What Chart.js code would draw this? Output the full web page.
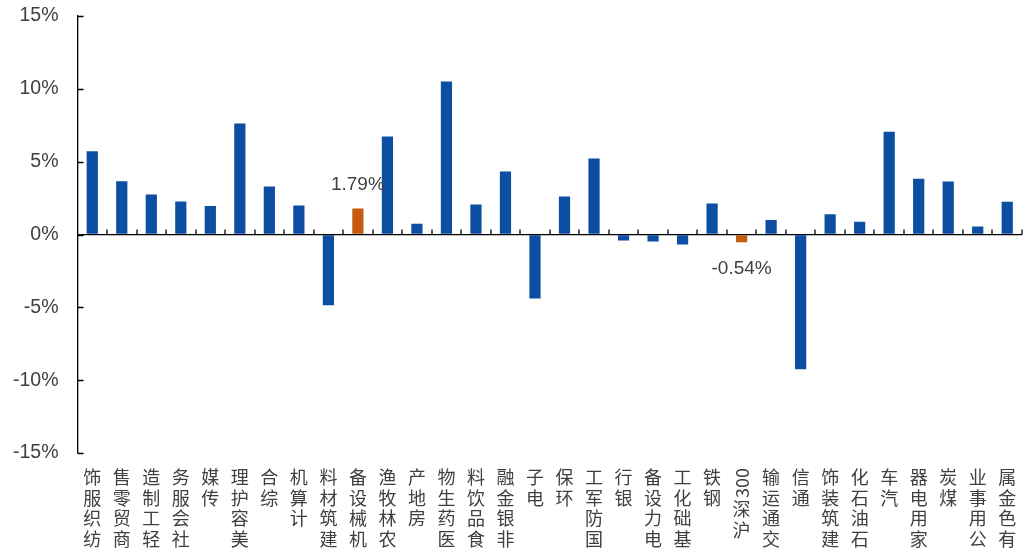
<!DOCTYPE html>
<html>
<head>
<meta charset="utf-8">
<script src="https://cdn.jsdelivr.net/npm/chart.js@4"></script>
<style>
  html, body { margin: 0; padding: 0; background: #fff; }
  #wrap { width: 1027px; height: 556px; }
</style>
</head>
<body>
<div id="wrap"><canvas id="industryChart" width="1027" height="556"></canvas></div>
<script>
// industries, weekly change (%)
const industries = ['纺织服饰', '商贸零售', '轻工制造', '社会服务', '传媒', '美容护理', '综合', '计算机',
    '建筑材料', '机械设备', '农林牧渔', '房地产', '医药生物', '食品饮料', '非银金融', '电子',
    '环保', '国防军工', '银行', '电力设备', '基础化工', '钢铁', '沪深300', '交通运输',
    '通信', '建筑装饰', '石油石化', '汽车', '家用电器', '煤炭', '公用事业', '有色金属'];
const changes = [5.72, 3.66, 2.75, 2.27, 1.96, 7.62, 3.30, 1.99,
    -4.86, 1.79, 6.73, 0.73, 10.51, 2.06, 4.33, -4.40,
    2.61, 5.22, -0.41, -0.48, -0.69, 2.13, -0.54, 1.00,
    -9.25, 1.39, 0.87, 7.05, 3.82, 3.64, 0.55, 2.24];
const highlighted = ['机械设备', '沪深300'];
const yTicks = [-15, -10, -5, 0, 5, 10, 15];

const blue = '#0b4ea2';
const orange = '#c55a11';
const textGray = '#404040';
const barColors = industries.map(n => highlighted.includes(n) ? orange : blue);

// inside tick marks on both axes
const tickMarks = {
    id: 'tickMarks',
    afterDatasetsDraw(chart) {
        const { ctx, chartArea, scales: { x, y } } = chart;
        const zero = y.getPixelForValue(0);
        const step = (chartArea.right - chartArea.left) / industries.length;
        ctx.save();
        ctx.strokeStyle = '#000';
        ctx.lineWidth = 1.3;
        ctx.beginPath();
        yTicks.forEach(v => {
            const py = Math.round(y.getPixelForValue(v)) + 0.5;
            ctx.moveTo(chartArea.left, py);
            ctx.lineTo(chartArea.left + 6, py);
        });
        for (let i = 1; i <= industries.length; i++) {
            const px = Math.round(chartArea.left + i * step);
            ctx.moveTo(px, zero);
            ctx.lineTo(px, zero - 5);
        }
        ctx.stroke();
        ctx.restore();
    }
};

// value labels for the highlighted bars
const valueLabels = {
    id: 'valueLabels',
    afterDatasetsDraw(chart) {
        const { ctx } = chart;
        const meta = chart.getDatasetMeta(0);
        ctx.save();
        ctx.font = '19px "Liberation Sans", Arial, sans-serif';
        ctx.fillStyle = textGray;
        ctx.textAlign = 'center';
        ctx.textBaseline = 'middle';
        industries.forEach((n, i) => {
            if (!highlighted.includes(n)) return;
            const bar = meta.data[i];
            const v = changes[i];
            const ty = v >= 0 ? bar.y - 24 : bar.y + 26;
            ctx.fillText(v.toFixed(2) + '%', bar.x, ty);
        });
        ctx.restore();
    }
};

// vertical category labels, read bottom to top, CJK glyphs upright
const verticalLabels = {
    id: 'verticalLabels',
    afterDraw(chart) {
        const { ctx, scales: { x } } = chart;
        const top = 467;
        const pitch = 20.5;
        ctx.save();
        ctx.font = '18px "Noto Sans CJK SC", sans-serif';
        ctx.fillStyle = textGray;
        ctx.textAlign = 'center';
        ctx.textBaseline = 'middle';
        industries.forEach((name, i) => {
            const cx = x.getPixelForValue(i);
            const parts = name.match(/[\x00-\x7f]+|[^\x00-\x7f]/g).reverse();
            let py = top;
            parts.forEach(p => {
                if (/^[\x00-\x7f]+$/.test(p)) {
                    const w = ctx.measureText(p).width;
                    ctx.save();
                    ctx.translate(cx, py + w / 2 + 1);
                    ctx.rotate(-Math.PI / 2);
                    ctx.fillText(p, 0, 1);
                    ctx.restore();
                    py += w + 2;
                } else {
                    ctx.fillText(p, cx, py + pitch / 2);
                    py += pitch;
                }
            });
        });
        ctx.restore();
    }
};

const ctx = document.getElementById('industryChart').getContext('2d');
const industryChart = new Chart(ctx, {
    type: 'bar',
    data: {
        labels: industries,
        datasets: [{
            data: changes,
            backgroundColor: barColors,
            borderWidth: 0,
            barPercentage: 1,
            categoryPercentage: 0.38
        }]
    },
    options: {
        responsive: false,
        animation: false,
        layout: {
            autoPadding: false,
            padding: { left: 0, top: 16, right: 5, bottom: 103 }
        },
        plugins: {
            legend: { display: false },
            tooltip: { enabled: false }
        },
        scales: {
            x: {
                display: false,
                offset: true
            },
            y: {
                min: -15,
                max: 15,
                afterFit(scale) { scale.width = 77.5; },
                afterBuildTicks(scale) {
                    scale.ticks = yTicks.map(v => ({ value: v }));
                },
                ticks: {
                    padding: 2,
                    color: textGray,
                    font: { family: '"Liberation Sans", Arial, sans-serif', size: 19.5 },
                    callback: v => v + '%'
                },
                grid: {
                    drawTicks: true,
                    tickLength: 17,
                    tickColor: 'rgba(0,0,0,0)',
                    lineWidth: 1.3,
                    color: c => c.tick && c.tick.value === 0 ? '#000' : 'rgba(0,0,0,0)'
                },
                border: { display: true, color: '#000', width: 1.3 }
            }
        }
    },
    plugins: [tickMarks, valueLabels, verticalLabels]
});
</script>
</body>
</html>
